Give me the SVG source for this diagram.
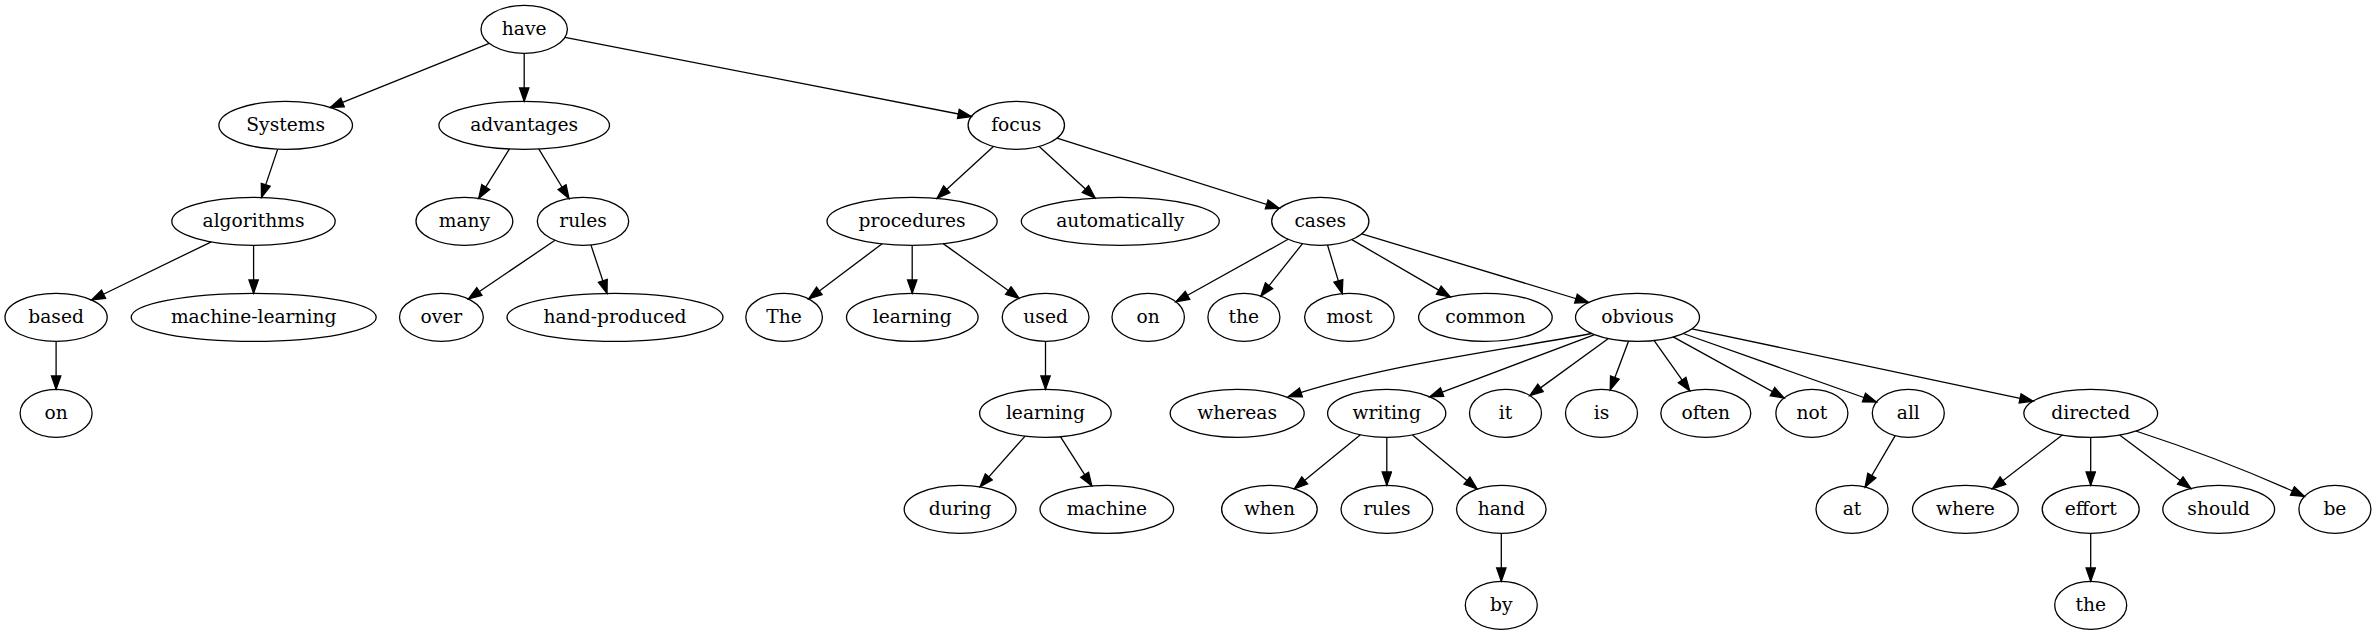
<svg xmlns="http://www.w3.org/2000/svg" width="2376" height="635" viewBox="0 0 2376 635">
<style>
.n ellipse{fill:none;stroke:#000;stroke-width:1.3}
.n text{font-family:"DejaVu Serif","Liberation Serif",serif;font-size:18.67px;text-anchor:middle;fill:#000}
.e path{fill:none;stroke:#000;stroke-width:1.3;marker-end:url(#ah)}
</style>
<defs>
<marker id="ah" markerUnits="userSpaceOnUse" markerWidth="16" markerHeight="12" viewBox="0 0 16 12" refX="14.3" refY="5.67" orient="auto">
<path d="M1,1 L14.3,5.67 L1,10.33 z" fill="#000" stroke="#000" stroke-width="1.3"/>
</marker>
</defs>
<rect width="2376" height="635" fill="#fff"/>
<g id="connectors" class="e">
<path d="M489.2,43.4 L330.2,107.4"/>
<path d="M524.2,53.3 L524.2,101.3"/>
<path d="M565,37.3 L971.4,116.5"/>
<path d="M277.7,149.1 L261.5,197.4"/>
<path d="M509.5,148.9 L478.7,198.4"/>
<path d="M538.7,148.9 L569,198.5"/>
<path d="M993.4,146.4 L937,198.3"/>
<path d="M1039.2,146.4 L1095.2,198.1"/>
<path d="M1057,138.2 L1279.4,208.4"/>
<path d="M211.3,241.8 L91.6,300"/>
<path d="M253.6,245.3 L253.6,293.3"/>
<path d="M555,240.3 L468.4,299"/>
<path d="M590.9,244.9 L607,293.4"/>
<path d="M882.1,243.8 L808.7,298.9"/>
<path d="M912.2,245.3 L912.2,293.3"/>
<path d="M943.2,243.6 L1019.1,298.3"/>
<path d="M1288.1,239.3 L1175.9,301.8"/>
<path d="M1302.5,243.6 L1260.8,296.1"/>
<path d="M1327.5,245 L1342.2,293.6"/>
<path d="M1351.8,239.6 L1450.3,296.9"/>
<path d="M1361.7,233.8 L1588.7,302.5"/>
<path d="M56.1,341.3 L56.1,389.3"/>
<path d="M1045.5,341.3 L1045.5,389.3"/>
<path d="M1025.1,436.1 L980,486.9"/>
<path d="M1060.4,436.7 L1091.8,485.9"/>
<path d="M1591.5,333.5 C1480,354 1380,366 1288.3,396.7"/>
<path d="M1594,334.8 L1429.7,396.8"/>
<path d="M1608.4,338.5 L1529.8,395.6"/>
<path d="M1628.6,341 L1610.2,390"/>
<path d="M1654,340.4 L1689.8,390.9"/>
<path d="M1673.2,336.9 L1784.1,398"/>
<path d="M1683.2,333.5 L1876.5,402"/>
<path d="M1691.9,328.8 L2033.1,401.1"/>
<path d="M1360.4,434.8 L1294.4,488.8"/>
<path d="M1386.8,437.3 L1386.8,485.3"/>
<path d="M1412.5,434.9 L1477.2,489.1"/>
<path d="M1501.3,533.3 L1501.3,581.3"/>
<path d="M1895.2,435.6 L1865.1,487"/>
<path d="M2062.3,435 L1992.4,488.7"/>
<path d="M2090.7,437.3 L2090.7,485.3"/>
<path d="M2119.6,434.9 L2190.9,488.5"/>
<path d="M2135.8,431 C2200,452 2260,476 2304.5,496.5"/>
<path d="M2090.7,533.3 L2090.7,581.3"/>
</g>
<g id="have" class="n"><ellipse cx="524.2" cy="29.3" rx="43.2" ry="24"/><text x="524.2" y="35">have</text></g>
<g id="Systems" class="n"><ellipse cx="285.7" cy="125.3" rx="66.8" ry="24"/><text x="285.7" y="131">Systems</text></g>
<g id="advantages" class="n"><ellipse cx="524.2" cy="125.3" rx="85.3" ry="24"/><text x="524.2" y="131">advantages</text></g>
<g id="focus" class="n"><ellipse cx="1016.3" cy="125.3" rx="48.2" ry="24"/><text x="1016.3" y="131">focus</text></g>
<g id="algorithms" class="n"><ellipse cx="253.5" cy="221.3" rx="81.7" ry="24"/><text x="253.5" y="227">algorithms</text></g>
<g id="many" class="n"><ellipse cx="464.4" cy="221.3" rx="48.4" ry="24"/><text x="464.4" y="227">many</text></g>
<g id="rules1" class="n"><ellipse cx="583" cy="221.3" rx="45.7" ry="24"/><text x="583" y="227">rules</text></g>
<g id="procedures" class="n"><ellipse cx="912.1" cy="221.3" rx="85.1" ry="24"/><text x="912.1" y="227">procedures</text></g>
<g id="automatically" class="n"><ellipse cx="1120.3" cy="221.3" rx="99" ry="24"/><text x="1120.3" y="227">automatically</text></g>
<g id="cases" class="n"><ellipse cx="1320.3" cy="221.3" rx="48.6" ry="24"/><text x="1320.3" y="227">cases</text></g>
<g id="based" class="n"><ellipse cx="56.1" cy="317.3" rx="51.1" ry="24"/><text x="56.1" y="323">based</text></g>
<g id="machine-learning" class="n"><ellipse cx="253.7" cy="317.3" rx="122.5" ry="24"/><text x="253.7" y="323">machine-learning</text></g>
<g id="over" class="n"><ellipse cx="441.4" cy="317.3" rx="41.9" ry="24"/><text x="441.4" y="323">over</text></g>
<g id="hand-produced" class="n"><ellipse cx="615" cy="317.3" rx="108" ry="24"/><text x="615" y="323">hand-produced</text></g>
<g id="The" class="n"><ellipse cx="784.1" cy="317.3" rx="38.3" ry="24"/><text x="784.1" y="323">The</text></g>
<g id="learning1" class="n"><ellipse cx="912.3" cy="317.3" rx="65.8" ry="24"/><text x="912.3" y="323">learning</text></g>
<g id="used" class="n"><ellipse cx="1045.6" cy="317.3" rx="43.4" ry="24"/><text x="1045.6" y="323">used</text></g>
<g id="on1" class="n"><ellipse cx="1148.2" cy="317.3" rx="36.2" ry="24"/><text x="1148.2" y="323">on</text></g>
<g id="the1" class="n"><ellipse cx="1243.9" cy="317.3" rx="36" ry="24"/><text x="1243.9" y="323">the</text></g>
<g id="most" class="n"><ellipse cx="1349.4" cy="317.3" rx="44.8" ry="24"/><text x="1349.4" y="323">most</text></g>
<g id="common" class="n"><ellipse cx="1485.4" cy="317.3" rx="66.8" ry="24"/><text x="1485.4" y="323">common</text></g>
<g id="obvious" class="n"><ellipse cx="1637.5" cy="317.3" rx="62" ry="24"/><text x="1637.5" y="323">obvious</text></g>
<g id="on2" class="n"><ellipse cx="56.1" cy="413.3" rx="36" ry="24"/><text x="56.1" y="419">on</text></g>
<g id="learning2" class="n"><ellipse cx="1045.4" cy="413.3" rx="65.8" ry="24"/><text x="1045.4" y="419">learning</text></g>
<g id="whereas" class="n"><ellipse cx="1237.2" cy="413.3" rx="67" ry="24"/><text x="1237.2" y="419">whereas</text></g>
<g id="writing" class="n"><ellipse cx="1386.7" cy="413.3" rx="59.1" ry="24"/><text x="1386.7" y="419">writing</text></g>
<g id="it" class="n"><ellipse cx="1505.5" cy="413.3" rx="36" ry="24"/><text x="1505.5" y="419">it</text></g>
<g id="is" class="n"><ellipse cx="1601.5" cy="413.3" rx="36" ry="24"/><text x="1601.5" y="419">is</text></g>
<g id="often" class="n"><ellipse cx="1705.8" cy="413.3" rx="45" ry="24"/><text x="1705.8" y="419">often</text></g>
<g id="not" class="n"><ellipse cx="1811.9" cy="413.3" rx="36" ry="24"/><text x="1811.9" y="419">not</text></g>
<g id="all" class="n"><ellipse cx="1908.3" cy="413.3" rx="36" ry="24"/><text x="1908.3" y="419">all</text></g>
<g id="directed" class="n"><ellipse cx="2090.7" cy="413.3" rx="66.9" ry="24"/><text x="2090.7" y="419">directed</text></g>
<g id="during" class="n"><ellipse cx="960.1" cy="509.3" rx="55.9" ry="24"/><text x="960.1" y="515">during</text></g>
<g id="machine" class="n"><ellipse cx="1106.8" cy="509.3" rx="66.8" ry="24"/><text x="1106.8" y="515">machine</text></g>
<g id="when" class="n"><ellipse cx="1269.4" cy="509.3" rx="47.8" ry="24"/><text x="1269.4" y="515">when</text></g>
<g id="rules2" class="n"><ellipse cx="1386.9" cy="509.3" rx="45.9" ry="24"/><text x="1386.9" y="515">rules</text></g>
<g id="hand" class="n"><ellipse cx="1501.3" cy="509.3" rx="44.8" ry="24"/><text x="1501.3" y="515">hand</text></g>
<g id="at" class="n"><ellipse cx="1852" cy="509.3" rx="36" ry="24"/><text x="1852" y="515">at</text></g>
<g id="where" class="n"><ellipse cx="1965.4" cy="509.3" rx="52.9" ry="24"/><text x="1965.4" y="515">where</text></g>
<g id="effort" class="n"><ellipse cx="2090.7" cy="509.3" rx="48.5" ry="24"/><text x="2090.7" y="515">effort</text></g>
<g id="should" class="n"><ellipse cx="2218.7" cy="509.3" rx="55.9" ry="24"/><text x="2218.7" y="515">should</text></g>
<g id="be" class="n"><ellipse cx="2334.9" cy="509.3" rx="36" ry="24"/><text x="2334.9" y="515">be</text></g>
<g id="by" class="n"><ellipse cx="1501.3" cy="605.3" rx="36" ry="24"/><text x="1501.3" y="611">by</text></g>
<g id="the2" class="n"><ellipse cx="2090.7" cy="605.3" rx="36" ry="24"/><text x="2090.7" y="611">the</text></g>
</svg>
